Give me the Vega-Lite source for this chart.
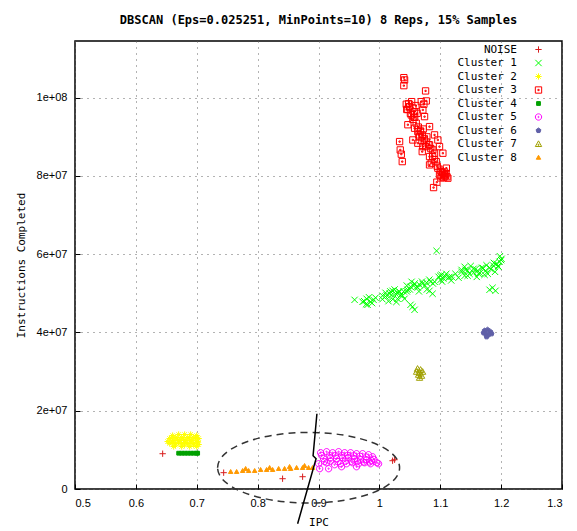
{
  "$schema": "https://vega.github.io/schema/vega-lite/v6.json",
  "width": 487,
  "height": 448,
  "autosize": {"type": "none"},
  "padding": {"left": 75, "top": 41, "right": 15, "bottom": 42},
  "background": "#ffffff",
  "title": {"text": "DBSCAN (Eps=0.025251, MinPoints=10) 8 Reps, 15% Samples", "font": "DejaVu Sans Mono", "fontSize": 12, "fontWeight": "bold", "color": "#000", "anchor": "middle", "offset": 14},
  "config": {
    "view": {"stroke": "#000", "strokeWidth": 1.5},
    "axis": {"domain": false, "grid": true, "gridColor": "#666", "gridDash": [1, 5], "gridWidth": 1, "tickColor": "#000", "tickSize": -5, "tickWidth": 1, "labelFont": "Liberation Sans", "labelFontSize": 11, "labelColor": "#000", "titleFont": "DejaVu Sans Mono", "titleFontSize": 11, "titleFontWeight": "normal", "titleColor": "#000"},
    "legend": {"labelFont": "DejaVu Sans Mono", "labelFontSize": 11, "labelColor": "#000", "symbolSize": 40, "symbolStrokeWidth": 1, "rowPadding": 1.5, "padding": 0, "titlePadding": 0}
  },
  "datasets": {
    "pts": [
      {"ipc": 0.644, "instr": 9020000, "cluster": "NOISE"},
      {"ipc": 0.7442, "instr": 4170000, "cluster": "NOISE"},
      {"ipc": 0.841, "instr": 2630000, "cluster": "NOISE"},
      {"ipc": 0.8739, "instr": 3140000, "cluster": "NOISE"},
      {"ipc": 1.0217, "instr": 7230000, "cluster": "NOISE"},
      {"ipc": 1.025, "instr": 7480000, "cluster": "NOISE"},
      {"ipc": 0.9593, "instr": 48350000, "cluster": "Cluster 1"},
      {"ipc": 0.9724, "instr": 47840000, "cluster": "Cluster 1"},
      {"ipc": 0.979, "instr": 48620000, "cluster": "Cluster 1"},
      {"ipc": 0.9855, "instr": 47840000, "cluster": "Cluster 1"},
      {"ipc": 0.9904, "instr": 48350000, "cluster": "Cluster 1"},
      {"ipc": 0.9806, "instr": 47080000, "cluster": "Cluster 1"},
      {"ipc": 0.9937, "instr": 48880000, "cluster": "Cluster 1"},
      {"ipc": 0.975, "instr": 48000000, "cluster": "Cluster 1"},
      {"ipc": 0.983, "instr": 49000000, "cluster": "Cluster 1"},
      {"ipc": 0.988, "instr": 47500000, "cluster": "Cluster 1"},
      {"ipc": 0.978, "instr": 47200000, "cluster": "Cluster 1"},
      {"ipc": 1.0052, "instr": 49390000, "cluster": "Cluster 1"},
      {"ipc": 1.0101, "instr": 50150000, "cluster": "Cluster 1"},
      {"ipc": 1.01, "instr": 49200000, "cluster": "Cluster 1"},
      {"ipc": 1.0167, "instr": 49900000, "cluster": "Cluster 1"},
      {"ipc": 1.02, "instr": 49600000, "cluster": "Cluster 1"},
      {"ipc": 1.0216, "instr": 50660000, "cluster": "Cluster 1"},
      {"ipc": 1.0266, "instr": 49900000, "cluster": "Cluster 1"},
      {"ipc": 1.03, "instr": 50000000, "cluster": "Cluster 1"},
      {"ipc": 1.0332, "instr": 50410000, "cluster": "Cluster 1"},
      {"ipc": 1.0381, "instr": 49390000, "cluster": "Cluster 1"},
      {"ipc": 1.0414, "instr": 48620000, "cluster": "Cluster 1"},
      {"ipc": 1.0298, "instr": 48620000, "cluster": "Cluster 1"},
      {"ipc": 1.005, "instr": 48500000, "cluster": "Cluster 1"},
      {"ipc": 1.012, "instr": 49500000, "cluster": "Cluster 1"},
      {"ipc": 1.018, "instr": 50500000, "cluster": "Cluster 1"},
      {"ipc": 1.025, "instr": 51000000, "cluster": "Cluster 1"},
      {"ipc": 1.032, "instr": 50500000, "cluster": "Cluster 1"},
      {"ipc": 1.015, "instr": 48000000, "cluster": "Cluster 1"},
      {"ipc": 1.022, "instr": 48500000, "cluster": "Cluster 1"},
      {"ipc": 1.035, "instr": 49500000, "cluster": "Cluster 1"},
      {"ipc": 1.04, "instr": 50500000, "cluster": "Cluster 1"},
      {"ipc": 1.028, "instr": 47800000, "cluster": "Cluster 1"},
      {"ipc": 1.045, "instr": 50500000, "cluster": "Cluster 1"},
      {"ipc": 1.0463, "instr": 50920000, "cluster": "Cluster 1"},
      {"ipc": 1.0512, "instr": 51680000, "cluster": "Cluster 1"},
      {"ipc": 1.0561, "instr": 51940000, "cluster": "Cluster 1"},
      {"ipc": 1.0611, "instr": 51680000, "cluster": "Cluster 1"},
      {"ipc": 1.066, "instr": 52200000, "cluster": "Cluster 1"},
      {"ipc": 1.071, "instr": 52450000, "cluster": "Cluster 1"},
      {"ipc": 1.0775, "instr": 52700000, "cluster": "Cluster 1"},
      {"ipc": 1.0841, "instr": 52960000, "cluster": "Cluster 1"},
      {"ipc": 1.0907, "instr": 52960000, "cluster": "Cluster 1"},
      {"ipc": 1.0529, "instr": 52960000, "cluster": "Cluster 1"},
      {"ipc": 1.045, "instr": 52000000, "cluster": "Cluster 1"},
      {"ipc": 1.05, "instr": 51000000, "cluster": "Cluster 1"},
      {"ipc": 1.058, "instr": 52500000, "cluster": "Cluster 1"},
      {"ipc": 1.063, "instr": 51500000, "cluster": "Cluster 1"},
      {"ipc": 1.07, "instr": 53000000, "cluster": "Cluster 1"},
      {"ipc": 1.075, "instr": 52000000, "cluster": "Cluster 1"},
      {"ipc": 1.082, "instr": 53500000, "cluster": "Cluster 1"},
      {"ipc": 1.088, "instr": 52500000, "cluster": "Cluster 1"},
      {"ipc": 1.065, "instr": 50500000, "cluster": "Cluster 1"},
      {"ipc": 1.078, "instr": 51000000, "cluster": "Cluster 1"},
      {"ipc": 1.0545, "instr": 46570000, "cluster": "Cluster 1"},
      {"ipc": 1.0578, "instr": 45800000, "cluster": "Cluster 1"},
      {"ipc": 1.0512, "instr": 47080000, "cluster": "Cluster 1"},
      {"ipc": 1.0824, "instr": 50660000, "cluster": "Cluster 1"},
      {"ipc": 1.0874, "instr": 49900000, "cluster": "Cluster 1"},
      {"ipc": 1.094, "instr": 60870000, "cluster": "Cluster 1"},
      {"ipc": 1.0973, "instr": 54240000, "cluster": "Cluster 1"},
      {"ipc": 1.1022, "instr": 54740000, "cluster": "Cluster 1"},
      {"ipc": 1.1071, "instr": 54490000, "cluster": "Cluster 1"},
      {"ipc": 1.1137, "instr": 53980000, "cluster": "Cluster 1"},
      {"ipc": 1.1186, "instr": 54240000, "cluster": "Cluster 1"},
      {"ipc": 1.1006, "instr": 53470000, "cluster": "Cluster 1"},
      {"ipc": 1.1, "instr": 54500000, "cluster": "Cluster 1"},
      {"ipc": 1.105, "instr": 53800000, "cluster": "Cluster 1"},
      {"ipc": 1.11, "instr": 55000000, "cluster": "Cluster 1"},
      {"ipc": 1.115, "instr": 54200000, "cluster": "Cluster 1"},
      {"ipc": 1.118, "instr": 53300000, "cluster": "Cluster 1"},
      {"ipc": 1.103, "instr": 53000000, "cluster": "Cluster 1"},
      {"ipc": 1.125, "instr": 55000000, "cluster": "Cluster 1"},
      {"ipc": 1.13, "instr": 54000000, "cluster": "Cluster 1"},
      {"ipc": 1.135, "instr": 55510000, "cluster": "Cluster 1"},
      {"ipc": 1.1416, "instr": 56020000, "cluster": "Cluster 1"},
      {"ipc": 1.1481, "instr": 55000000, "cluster": "Cluster 1"},
      {"ipc": 1.1547, "instr": 56280000, "cluster": "Cluster 1"},
      {"ipc": 1.155, "instr": 55300000, "cluster": "Cluster 1"},
      {"ipc": 1.1613, "instr": 55770000, "cluster": "Cluster 1"},
      {"ipc": 1.165, "instr": 55200000, "cluster": "Cluster 1"},
      {"ipc": 1.1679, "instr": 56530000, "cluster": "Cluster 1"},
      {"ipc": 1.1744, "instr": 55770000, "cluster": "Cluster 1"},
      {"ipc": 1.181, "instr": 56530000, "cluster": "Cluster 1"},
      {"ipc": 1.1875, "instr": 57040000, "cluster": "Cluster 1"},
      {"ipc": 1.1925, "instr": 57550000, "cluster": "Cluster 1"},
      {"ipc": 1.1974, "instr": 58060000, "cluster": "Cluster 1"},
      {"ipc": 1.2007, "instr": 58830000, "cluster": "Cluster 1"},
      {"ipc": 1.1957, "instr": 56790000, "cluster": "Cluster 1"},
      {"ipc": 1.1728, "instr": 54740000, "cluster": "Cluster 1"},
      {"ipc": 1.14, "instr": 54490000, "cluster": "Cluster 1"},
      {"ipc": 1.135, "instr": 56000000, "cluster": "Cluster 1"},
      {"ipc": 1.14, "instr": 56800000, "cluster": "Cluster 1"},
      {"ipc": 1.145, "instr": 55800000, "cluster": "Cluster 1"},
      {"ipc": 1.15, "instr": 57000000, "cluster": "Cluster 1"},
      {"ipc": 1.158, "instr": 56200000, "cluster": "Cluster 1"},
      {"ipc": 1.163, "instr": 55000000, "cluster": "Cluster 1"},
      {"ipc": 1.17, "instr": 56500000, "cluster": "Cluster 1"},
      {"ipc": 1.176, "instr": 57200000, "cluster": "Cluster 1"},
      {"ipc": 1.183, "instr": 56200000, "cluster": "Cluster 1"},
      {"ipc": 1.188, "instr": 57800000, "cluster": "Cluster 1"},
      {"ipc": 1.195, "instr": 57000000, "cluster": "Cluster 1"},
      {"ipc": 1.2, "instr": 58500000, "cluster": "Cluster 1"},
      {"ipc": 1.178, "instr": 55000000, "cluster": "Cluster 1"},
      {"ipc": 1.145, "instr": 54500000, "cluster": "Cluster 1"},
      {"ipc": 1.16, "instr": 54200000, "cluster": "Cluster 1"},
      {"ipc": 1.19, "instr": 55500000, "cluster": "Cluster 1"},
      {"ipc": 1.198, "instr": 59500000, "cluster": "Cluster 1"},
      {"ipc": 1.1859, "instr": 51430000, "cluster": "Cluster 1"},
      {"ipc": 1.1908, "instr": 50660000, "cluster": "Cluster 1"},
      {"ipc": 1.181, "instr": 50920000, "cluster": "Cluster 1"},
      {"ipc": 0.6604, "instr": 13660000, "cluster": "Cluster 2"},
      {"ipc": 0.6703, "instr": 13920000, "cluster": "Cluster 2"},
      {"ipc": 0.6801, "instr": 13920000, "cluster": "Cluster 2"},
      {"ipc": 0.69, "instr": 13920000, "cluster": "Cluster 2"},
      {"ipc": 0.6998, "instr": 13660000, "cluster": "Cluster 2"},
      {"ipc": 0.6555, "instr": 12900000, "cluster": "Cluster 2"},
      {"ipc": 0.6654, "instr": 13150000, "cluster": "Cluster 2"},
      {"ipc": 0.6752, "instr": 13150000, "cluster": "Cluster 2"},
      {"ipc": 0.6851, "instr": 13150000, "cluster": "Cluster 2"},
      {"ipc": 0.6949, "instr": 13150000, "cluster": "Cluster 2"},
      {"ipc": 0.7031, "instr": 12900000, "cluster": "Cluster 2"},
      {"ipc": 0.6522, "instr": 12130000, "cluster": "Cluster 2"},
      {"ipc": 0.6621, "instr": 12390000, "cluster": "Cluster 2"},
      {"ipc": 0.6719, "instr": 12390000, "cluster": "Cluster 2"},
      {"ipc": 0.6818, "instr": 12390000, "cluster": "Cluster 2"},
      {"ipc": 0.6916, "instr": 12390000, "cluster": "Cluster 2"},
      {"ipc": 0.7015, "instr": 12130000, "cluster": "Cluster 2"},
      {"ipc": 0.6555, "instr": 11630000, "cluster": "Cluster 2"},
      {"ipc": 0.6654, "instr": 11630000, "cluster": "Cluster 2"},
      {"ipc": 0.6752, "instr": 11630000, "cluster": "Cluster 2"},
      {"ipc": 0.6851, "instr": 11630000, "cluster": "Cluster 2"},
      {"ipc": 0.6949, "instr": 11630000, "cluster": "Cluster 2"},
      {"ipc": 0.7031, "instr": 11370000, "cluster": "Cluster 2"},
      {"ipc": 0.6621, "instr": 10860000, "cluster": "Cluster 2"},
      {"ipc": 0.6752, "instr": 10860000, "cluster": "Cluster 2"},
      {"ipc": 0.6883, "instr": 10860000, "cluster": "Cluster 2"},
      {"ipc": 0.6998, "instr": 10860000, "cluster": "Cluster 2"},
      {"ipc": 0.658, "instr": 13000000, "cluster": "Cluster 2"},
      {"ipc": 0.668, "instr": 12800000, "cluster": "Cluster 2"},
      {"ipc": 0.678, "instr": 12700000, "cluster": "Cluster 2"},
      {"ipc": 0.688, "instr": 12800000, "cluster": "Cluster 2"},
      {"ipc": 0.698, "instr": 12800000, "cluster": "Cluster 2"},
      {"ipc": 0.66, "instr": 11900000, "cluster": "Cluster 2"},
      {"ipc": 0.67, "instr": 12000000, "cluster": "Cluster 2"},
      {"ipc": 0.68, "instr": 11900000, "cluster": "Cluster 2"},
      {"ipc": 0.69, "instr": 12000000, "cluster": "Cluster 2"},
      {"ipc": 0.7, "instr": 11900000, "cluster": "Cluster 2"},
      {"ipc": 0.665, "instr": 11200000, "cluster": "Cluster 2"},
      {"ipc": 0.68, "instr": 11200000, "cluster": "Cluster 2"},
      {"ipc": 0.695, "instr": 11200000, "cluster": "Cluster 2"},
      {"ipc": 1.0402, "instr": 105130000, "cluster": "Cluster 3"},
      {"ipc": 1.0414, "instr": 104550000, "cluster": "Cluster 3"},
      {"ipc": 1.0402, "instr": 103090000, "cluster": "Cluster 3"},
      {"ipc": 1.0759, "instr": 101740000, "cluster": "Cluster 3"},
      {"ipc": 1.0442, "instr": 98340000, "cluster": "Cluster 3"},
      {"ipc": 1.0496, "instr": 97730000, "cluster": "Cluster 3"},
      {"ipc": 1.0688, "instr": 99000000, "cluster": "Cluster 3"},
      {"ipc": 1.077, "instr": 99180000, "cluster": "Cluster 3"},
      {"ipc": 1.0731, "instr": 98340000, "cluster": "Cluster 3"},
      {"ipc": 1.055, "instr": 97320000, "cluster": "Cluster 3"},
      {"ipc": 1.0524, "instr": 95600000, "cluster": "Cluster 3"},
      {"ipc": 1.0578, "instr": 96450000, "cluster": "Cluster 3"},
      {"ipc": 1.0714, "instr": 96880000, "cluster": "Cluster 3"},
      {"ipc": 1.0742, "instr": 95170000, "cluster": "Cluster 3"},
      {"ipc": 1.055, "instr": 94460000, "cluster": "Cluster 3"},
      {"ipc": 1.0468, "instr": 93100000, "cluster": "Cluster 3"},
      {"ipc": 1.0578, "instr": 92210000, "cluster": "Cluster 3"},
      {"ipc": 1.0632, "instr": 91340000, "cluster": "Cluster 3"},
      {"ipc": 1.0824, "instr": 92620000, "cluster": "Cluster 3"},
      {"ipc": 1.066, "instr": 90060000, "cluster": "Cluster 3"},
      {"ipc": 1.055, "instr": 89210000, "cluster": "Cluster 3"},
      {"ipc": 1.0632, "instr": 88380000, "cluster": "Cluster 3"},
      {"ipc": 1.0714, "instr": 87510000, "cluster": "Cluster 3"},
      {"ipc": 1.0824, "instr": 87940000, "cluster": "Cluster 3"},
      {"ipc": 1.0906, "instr": 90500000, "cluster": "Cluster 3"},
      {"ipc": 1.0961, "instr": 89210000, "cluster": "Cluster 3"},
      {"ipc": 1.0988, "instr": 87510000, "cluster": "Cluster 3"},
      {"ipc": 1.0878, "instr": 86660000, "cluster": "Cluster 3"},
      {"ipc": 1.0824, "instr": 84960000, "cluster": "Cluster 3"},
      {"ipc": 1.0906, "instr": 85820000, "cluster": "Cluster 3"},
      {"ipc": 1.0852, "instr": 83270000, "cluster": "Cluster 3"},
      {"ipc": 1.0934, "instr": 83680000, "cluster": "Cluster 3"},
      {"ipc": 1.1043, "instr": 85820000, "cluster": "Cluster 3"},
      {"ipc": 1.0961, "instr": 81990000, "cluster": "Cluster 3"},
      {"ipc": 1.1016, "instr": 81120000, "cluster": "Cluster 3"},
      {"ipc": 1.107, "instr": 80280000, "cluster": "Cluster 3"},
      {"ipc": 1.1125, "instr": 79440000, "cluster": "Cluster 3"},
      {"ipc": 1.0988, "instr": 80280000, "cluster": "Cluster 3"},
      {"ipc": 1.0824, "instr": 82840000, "cluster": "Cluster 3"},
      {"ipc": 1.0704, "instr": 86230000, "cluster": "Cluster 3"},
      {"ipc": 1.0332, "instr": 88790000, "cluster": "Cluster 3"},
      {"ipc": 1.0343, "instr": 86660000, "cluster": "Cluster 3"},
      {"ipc": 1.036, "instr": 85570000, "cluster": "Cluster 3"},
      {"ipc": 1.0376, "instr": 83680000, "cluster": "Cluster 3"},
      {"ipc": 1.0944, "instr": 78420000, "cluster": "Cluster 3"},
      {"ipc": 1.089, "instr": 77040000, "cluster": "Cluster 3"},
      {"ipc": 1.0468, "instr": 97000000, "cluster": "Cluster 3"},
      {"ipc": 1.051, "instr": 96000000, "cluster": "Cluster 3"},
      {"ipc": 1.0565, "instr": 95000000, "cluster": "Cluster 3"},
      {"ipc": 1.0605, "instr": 93500000, "cluster": "Cluster 3"},
      {"ipc": 1.064, "instr": 92500000, "cluster": "Cluster 3"},
      {"ipc": 1.0675, "instr": 91500000, "cluster": "Cluster 3"},
      {"ipc": 1.0705, "instr": 90500000, "cluster": "Cluster 3"},
      {"ipc": 1.074, "instr": 89500000, "cluster": "Cluster 3"},
      {"ipc": 1.0775, "instr": 88700000, "cluster": "Cluster 3"},
      {"ipc": 1.081, "instr": 88000000, "cluster": "Cluster 3"},
      {"ipc": 1.0845, "instr": 87000000, "cluster": "Cluster 3"},
      {"ipc": 1.0875, "instr": 85000000, "cluster": "Cluster 3"},
      {"ipc": 1.0905, "instr": 84200000, "cluster": "Cluster 3"},
      {"ipc": 1.095, "instr": 82500000, "cluster": "Cluster 3"},
      {"ipc": 1.1, "instr": 81500000, "cluster": "Cluster 3"},
      {"ipc": 1.104, "instr": 80800000, "cluster": "Cluster 3"},
      {"ipc": 1.108, "instr": 80000000, "cluster": "Cluster 3"},
      {"ipc": 1.111, "instr": 79800000, "cluster": "Cluster 3"},
      {"ipc": 1.1095, "instr": 80600000, "cluster": "Cluster 3"},
      {"ipc": 1.1055, "instr": 79600000, "cluster": "Cluster 3"},
      {"ipc": 1.045, "instr": 97000000, "cluster": "Cluster 3"},
      {"ipc": 1.048, "instr": 98500000, "cluster": "Cluster 3"},
      {"ipc": 1.053, "instr": 99000000, "cluster": "Cluster 3"},
      {"ipc": 1.06, "instr": 98000000, "cluster": "Cluster 3"},
      {"ipc": 1.062, "instr": 96000000, "cluster": "Cluster 3"},
      {"ipc": 1.058, "instr": 95000000, "cluster": "Cluster 3"},
      {"ipc": 1.065, "instr": 90500000, "cluster": "Cluster 3"},
      {"ipc": 1.07, "instr": 89000000, "cluster": "Cluster 3"},
      {"ipc": 1.076, "instr": 87500000, "cluster": "Cluster 3"},
      {"ipc": 1.072, "instr": 92000000, "cluster": "Cluster 3"},
      {"ipc": 1.078, "instr": 90000000, "cluster": "Cluster 3"},
      {"ipc": 1.103, "instr": 80000000, "cluster": "Cluster 3"},
      {"ipc": 1.107, "instr": 81000000, "cluster": "Cluster 3"},
      {"ipc": 1.11, "instr": 82000000, "cluster": "Cluster 3"},
      {"ipc": 1.101, "instr": 79500000, "cluster": "Cluster 3"},
      {"ipc": 0.6703, "instr": 9150000, "cluster": "Cluster 4"},
      {"ipc": 0.6752, "instr": 9150000, "cluster": "Cluster 4"},
      {"ipc": 0.6801, "instr": 9150000, "cluster": "Cluster 4"},
      {"ipc": 0.6851, "instr": 9150000, "cluster": "Cluster 4"},
      {"ipc": 0.69, "instr": 9150000, "cluster": "Cluster 4"},
      {"ipc": 0.6949, "instr": 9150000, "cluster": "Cluster 4"},
      {"ipc": 0.6998, "instr": 9150000, "cluster": "Cluster 4"},
      {"ipc": 0.7015, "instr": 9150000, "cluster": "Cluster 4"},
      {"ipc": 0.9035, "instr": 9270000, "cluster": "Cluster 5"},
      {"ipc": 0.9133, "instr": 9530000, "cluster": "Cluster 5"},
      {"ipc": 0.9232, "instr": 9270000, "cluster": "Cluster 5"},
      {"ipc": 0.933, "instr": 9530000, "cluster": "Cluster 5"},
      {"ipc": 0.9429, "instr": 9270000, "cluster": "Cluster 5"},
      {"ipc": 0.9527, "instr": 9270000, "cluster": "Cluster 5"},
      {"ipc": 0.9625, "instr": 9020000, "cluster": "Cluster 5"},
      {"ipc": 0.9724, "instr": 9020000, "cluster": "Cluster 5"},
      {"ipc": 0.9822, "instr": 8760000, "cluster": "Cluster 5"},
      {"ipc": 0.9888, "instr": 8250000, "cluster": "Cluster 5"},
      {"ipc": 0.9084, "instr": 7740000, "cluster": "Cluster 5"},
      {"ipc": 0.9199, "instr": 8000000, "cluster": "Cluster 5"},
      {"ipc": 0.9297, "instr": 7740000, "cluster": "Cluster 5"},
      {"ipc": 0.9396, "instr": 8000000, "cluster": "Cluster 5"},
      {"ipc": 0.9494, "instr": 8000000, "cluster": "Cluster 5"},
      {"ipc": 0.9593, "instr": 7740000, "cluster": "Cluster 5"},
      {"ipc": 0.9691, "instr": 7480000, "cluster": "Cluster 5"},
      {"ipc": 0.979, "instr": 7480000, "cluster": "Cluster 5"},
      {"ipc": 0.9872, "instr": 7230000, "cluster": "Cluster 5"},
      {"ipc": 0.9002, "instr": 6460000, "cluster": "Cluster 5"},
      {"ipc": 0.9133, "instr": 6720000, "cluster": "Cluster 5"},
      {"ipc": 0.9265, "instr": 6210000, "cluster": "Cluster 5"},
      {"ipc": 0.9363, "instr": 6460000, "cluster": "Cluster 5"},
      {"ipc": 0.9461, "instr": 6460000, "cluster": "Cluster 5"},
      {"ipc": 0.956, "instr": 6720000, "cluster": "Cluster 5"},
      {"ipc": 0.9658, "instr": 6460000, "cluster": "Cluster 5"},
      {"ipc": 0.9757, "instr": 6720000, "cluster": "Cluster 5"},
      {"ipc": 0.9855, "instr": 6460000, "cluster": "Cluster 5"},
      {"ipc": 0.9987, "instr": 6460000, "cluster": "Cluster 5"},
      {"ipc": 0.9019, "instr": 5190000, "cluster": "Cluster 5"},
      {"ipc": 0.9166, "instr": 5190000, "cluster": "Cluster 5"},
      {"ipc": 0.9379, "instr": 5700000, "cluster": "Cluster 5"},
      {"ipc": 0.9625, "instr": 5700000, "cluster": "Cluster 5"},
      {"ipc": 0.905, "instr": 8600000, "cluster": "Cluster 5"},
      {"ipc": 0.918, "instr": 8600000, "cluster": "Cluster 5"},
      {"ipc": 0.928, "instr": 8600000, "cluster": "Cluster 5"},
      {"ipc": 0.938, "instr": 8600000, "cluster": "Cluster 5"},
      {"ipc": 0.948, "instr": 8600000, "cluster": "Cluster 5"},
      {"ipc": 0.958, "instr": 8500000, "cluster": "Cluster 5"},
      {"ipc": 0.968, "instr": 8400000, "cluster": "Cluster 5"},
      {"ipc": 0.978, "instr": 8200000, "cluster": "Cluster 5"},
      {"ipc": 0.91, "instr": 7000000, "cluster": "Cluster 5"},
      {"ipc": 0.92, "instr": 7100000, "cluster": "Cluster 5"},
      {"ipc": 0.932, "instr": 7000000, "cluster": "Cluster 5"},
      {"ipc": 0.944, "instr": 7100000, "cluster": "Cluster 5"},
      {"ipc": 0.954, "instr": 7000000, "cluster": "Cluster 5"},
      {"ipc": 0.964, "instr": 7000000, "cluster": "Cluster 5"},
      {"ipc": 0.974, "instr": 6900000, "cluster": "Cluster 5"},
      {"ipc": 0.984, "instr": 6900000, "cluster": "Cluster 5"},
      {"ipc": 0.996, "instr": 6700000, "cluster": "Cluster 5"},
      {"ipc": 0.991, "instr": 7600000, "cluster": "Cluster 5"},
      {"ipc": 1.1728, "instr": 40470000, "cluster": "Cluster 6"},
      {"ipc": 1.1777, "instr": 40720000, "cluster": "Cluster 6"},
      {"ipc": 1.1826, "instr": 40180000, "cluster": "Cluster 6"},
      {"ipc": 1.1744, "instr": 39670000, "cluster": "Cluster 6"},
      {"ipc": 1.1793, "instr": 39410000, "cluster": "Cluster 6"},
      {"ipc": 1.1843, "instr": 39670000, "cluster": "Cluster 6"},
      {"ipc": 1.1761, "instr": 38900000, "cluster": "Cluster 6"},
      {"ipc": 1.1711, "instr": 39920000, "cluster": "Cluster 6"},
      {"ipc": 1.0627, "instr": 30730000, "cluster": "Cluster 7"},
      {"ipc": 1.0677, "instr": 30470000, "cluster": "Cluster 7"},
      {"ipc": 1.0611, "instr": 29960000, "cluster": "Cluster 7"},
      {"ipc": 1.066, "instr": 29710000, "cluster": "Cluster 7"},
      {"ipc": 1.071, "instr": 29960000, "cluster": "Cluster 7"},
      {"ipc": 1.0644, "instr": 29200000, "cluster": "Cluster 7"},
      {"ipc": 1.0693, "instr": 28940000, "cluster": "Cluster 7"},
      {"ipc": 1.066, "instr": 28430000, "cluster": "Cluster 7"},
      {"ipc": 0.7557, "instr": 4420000, "cluster": "Cluster 8"},
      {"ipc": 0.7655, "instr": 4420000, "cluster": "Cluster 8"},
      {"ipc": 0.7754, "instr": 4670000, "cluster": "Cluster 8"},
      {"ipc": 0.7852, "instr": 4670000, "cluster": "Cluster 8"},
      {"ipc": 0.7951, "instr": 4670000, "cluster": "Cluster 8"},
      {"ipc": 0.8049, "instr": 4930000, "cluster": "Cluster 8"},
      {"ipc": 0.8148, "instr": 4930000, "cluster": "Cluster 8"},
      {"ipc": 0.8246, "instr": 4930000, "cluster": "Cluster 8"},
      {"ipc": 0.8345, "instr": 5190000, "cluster": "Cluster 8"},
      {"ipc": 0.8443, "instr": 5190000, "cluster": "Cluster 8"},
      {"ipc": 0.8542, "instr": 5190000, "cluster": "Cluster 8"},
      {"ipc": 0.864, "instr": 5440000, "cluster": "Cluster 8"},
      {"ipc": 0.8739, "instr": 5440000, "cluster": "Cluster 8"},
      {"ipc": 0.8837, "instr": 5440000, "cluster": "Cluster 8"},
      {"ipc": 0.8903, "instr": 5440000, "cluster": "Cluster 8"},
      {"ipc": 0.7803, "instr": 5190000, "cluster": "Cluster 8"},
      {"ipc": 0.8197, "instr": 5440000, "cluster": "Cluster 8"},
      {"ipc": 0.8525, "instr": 5700000, "cluster": "Cluster 8"},
      {"ipc": 0.8771, "instr": 5950000, "cluster": "Cluster 8"}
    ],
    "ellipse": [{"ipc": 0.8837, "instr": 5440000}],
    "zigzag": [
      {"ipc": 0.8974, "instr": 19230000, "k": 1},
      {"ipc": 0.8911, "instr": 8500000, "k": 2},
      {"ipc": 0.896, "instr": 7740000, "k": 3},
      {"ipc": 0.8657, "instr": -8870000, "k": 4}
    ]
  },
  "layer": [
    {
      "data": {"name": "pts"},
      "mark": {"type": "point", "opacity": 1, "strokeWidth": 1, "size": 40, "clip": false},
      "encoding": {
        "x": {"field": "ipc", "type": "quantitative", "scale": {"domain": [0.5, 1.3], "nice": false, "zero": false},
          "axis": {"values": [0.5, 0.6, 0.7, 0.8, 0.9, 1, 1.1, 1.2, 1.3], "labelExpr": "datum.value == 1 ? '1' : format(datum.value, '.1f')", "title": "IPC", "labelPadding": 13, "titlePadding": 8}},
        "y": {"field": "instr", "type": "quantitative", "scale": {"domain": [0, 114500000], "nice": false, "zero": false},
          "axis": {"values": [0, 20000000, 40000000, 60000000, 80000000, 100000000], "labelExpr": "datum.value == 0 ? '0' : replace(format(datum.value, '.0e'), '+', '+0')", "title": "Instructions Completed", "labelPadding": 13, "titlePadding": 10}},
        "shape": {"field": "cluster", "type": "nominal",
          "scale": {"domain": ["NOISE", "Cluster 1", "Cluster 2", "Cluster 3", "Cluster 4", "Cluster 5", "Cluster 6", "Cluster 7", "Cluster 8"],
            "range": ["M-1,0L1,0M0,-1L0,1", "M-1,-1L1,1M-1,1L1,-1", "M-1,0L1,0M0,-1L0,1M-0.7,-0.7L0.7,0.7M-0.7,0.7L0.7,-0.7", "M-1,-1L1,-1L1,1L-1,1ZM-0.2,-0.2L0.2,-0.2L0.2,0.2L-0.2,0.2Z", "M-0.6,-0.6L0.6,-0.6L0.6,0.6L-0.6,0.6Z", "M-1,0A1,1 0 1,1 1,0A1,1 0 1,1 -1,0ZM-0.2,0A0.2,0.2 0 1,1 0.2,0A0.2,0.2 0 1,1 -0.2,0Z", "M0,-0.8L0.76,-0.25L0.47,0.65L-0.47,0.65L-0.76,-0.25Z", "M0,-1L1,0.8L-1,0.8ZM-0.15,0.1L0.15,0.1L0.15,0.4L-0.15,0.4Z", "M0,-0.7L0.7,0.55L-0.7,0.55Z"]},
          "legend": {"title": null, "orient": "none", "legendX": 458, "legendY": 3, "labelAlign": "right", "labelOffset": -27}},
        "stroke": {"field": "cluster", "type": "nominal",
          "scale": {"domain": ["NOISE", "Cluster 1", "Cluster 2", "Cluster 3", "Cluster 4", "Cluster 5", "Cluster 6", "Cluster 7", "Cluster 8"],
            "range": ["#d81e1e", "#00ff00", "#ffff00", "#ff0000", "#00a000", "#ff00ff", "#6060a8", "#a0a000", "#ff9900"]}},
        "fill": {"field": "cluster", "type": "nominal",
          "scale": {"domain": ["NOISE", "Cluster 1", "Cluster 2", "Cluster 3", "Cluster 4", "Cluster 5", "Cluster 6", "Cluster 7", "Cluster 8"],
            "range": ["transparent", "transparent", "transparent", "transparent", "#00a000", "transparent", "#6060a8", "transparent", "#ff9900"]}}
      }
    },
    {
      "data": {"name": "ellipse"},
      "mark": {"type": "point", "shape": "M-1,0A1,0.388 0 1,1 1,0A1,0.388 0 1,1 -1,0Z", "size": 33124, "filled": false, "stroke": "#333", "strokeWidth": 1.5, "strokeDash": [7, 5], "opacity": 1, "clip": false},
      "encoding": {
        "x": {"field": "ipc", "type": "quantitative"},
        "y": {"field": "instr", "type": "quantitative"}
      }
    },
    {
      "data": {"name": "zigzag"},
      "mark": {"type": "line", "color": "#000", "strokeWidth": 1.5, "clip": false},
      "encoding": {
        "x": {"field": "ipc", "type": "quantitative"},
        "y": {"field": "instr", "type": "quantitative"},
        "order": {"field": "k", "type": "quantitative"}
      }
    }
  ]
}
